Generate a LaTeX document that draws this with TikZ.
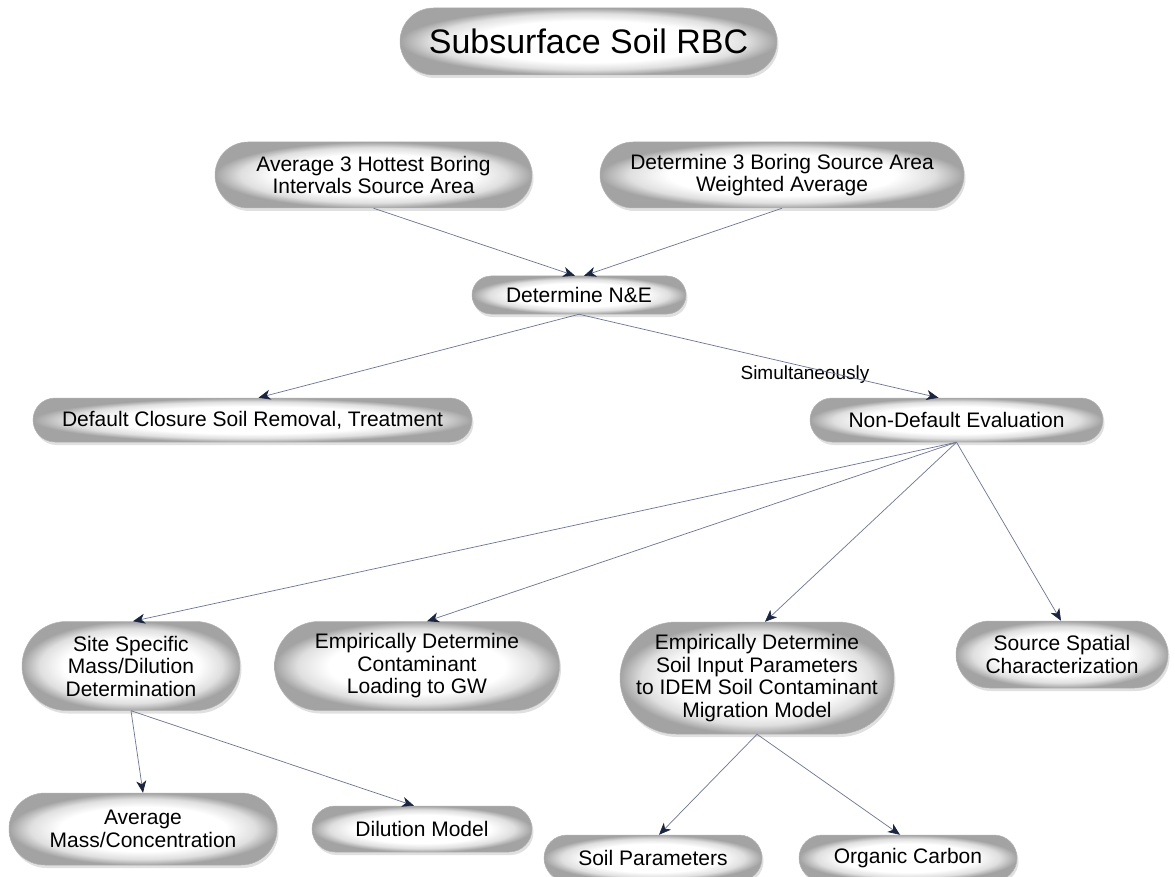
\documentclass[tikz,border=0pt]{standalone}
\usepackage{fontspec}
\setmainfont{Liberation Sans}
\usetikzlibrary{arrows.meta,shadows}
\definecolor{lineblue}{HTML}{6B7391}
\definecolor{tipblue}{HTML}{1C2540}
\pgfdeclareradialshading{pillshade}{\pgfpoint{0bp}{0bp}}{color(0bp)=(white); color(15.5bp)=(white); color(21bp)=(gray!25); color(25bp)=(gray!72); color(50bp)=(gray!72)}
\tikzset{
  pill/.style n args={2}{shade, shading=pillshade, draw=gray!60, line width=0.5pt,
    align=center, text=black, inner sep=0pt,
    font=\fontsize{21}{22.5}\selectfont,
    minimum width=#1pt, minimum height=#2pt, rounded corners=#2*0.5pt,
    drop shadow={shadow xshift=1.5pt, shadow yshift=-3pt, opacity=0.3, fill=gray!80}},
  arr/.style={draw=lineblue, line width=0.7pt,
    -{Stealth[length=12pt, width=10pt, inset=3.5pt, color=tipblue]}}
}
\begin{document}
\begin{tikzpicture}[x=1pt, y=-1pt]
\useasboundingbox (0,0) rectangle (1175,877);
\node[pill={377}{67}, font=\fontsize{34}{36}\selectfont] (title) at (588.5,41.5) {Subsurface Soil RBC};
\node[pill={317}{66}] (avg3) at (373.5,175) {Average 3 Hottest Boring\\Intervals Source Area};
\node[pill={364}{66}] (det3) at (782,175) {Determine 3 Boring Source Area\\Weighted Average};
\node[pill={214}{38}] (ne) at (579,295) {Determine N\&E};
\node[pill={439}{44}] (def) at (252.5,420) {Default Closure Soil Removal, Treatment};
\node[pill={293}{44}] (nondef) at (956.5,420) {Non-Default Evaluation};
\node[pill={218}{89}] (site) at (131,666) {Site Specific\\Mass/Dilution\\Determination};
\node[pill={285}{89}] (cont) at (417,666) {Empirically Determine\\Contaminant\\Loading to GW};
\node[pill={274}{112}] (soilin) at (757,678) {Empirically Determine\\Soil Input Parameters\\to IDEM Soil Contaminant\\Migration Model};
\node[pill={212}{67}] (source) at (1062,654.5) {Source Spatial\\Characterization};
\node[pill={268}{72}] (avgmass) at (143,829) {Average\\Mass/Concentration};
\node[pill={220}{46}] (dil) at (422,829) {Dilution Model};
\node[pill={218}{46}] (soilpar) at (653,858) {Soil Parameters};
\node[pill={218}{46}] (orgc) at (908,858) {Organic Carbon};
\node[font=\fontsize{19}{21}\selectfont, inner sep=0pt] (sim) at (805,375) {Simultaneously};

\draw[arr] (avg3.south) -- ([xshift=-4pt]ne.north);
\draw[arr] (det3.south) -- ([xshift=5pt]ne.north);
\draw[arr] (ne.south) -- ([xshift=6pt]def.north);
\draw[arr] (ne.south) -- ([xshift=-18pt]nondef.north);
\draw[arr] (nondef.south) -- ([xshift=2pt]site.north);
\draw[arr] (nondef.south) -- ([xshift=10pt]cont.north);
\draw[arr] (nondef.south) -- ([xshift=8pt]soilin.north);
\draw[arr] (nondef.south) -- ([xshift=-1pt]source.north);
\draw[arr] (site.south) -- (avgmass.north);
\draw[arr] (site.south) -- ([xshift=-8pt]dil.north);
\draw[arr] (soilin.south) -- ([xshift=6pt]soilpar.north);
\draw[arr] (soilin.south) -- ([xshift=-8pt]orgc.north);
\end{tikzpicture}
\end{document}
